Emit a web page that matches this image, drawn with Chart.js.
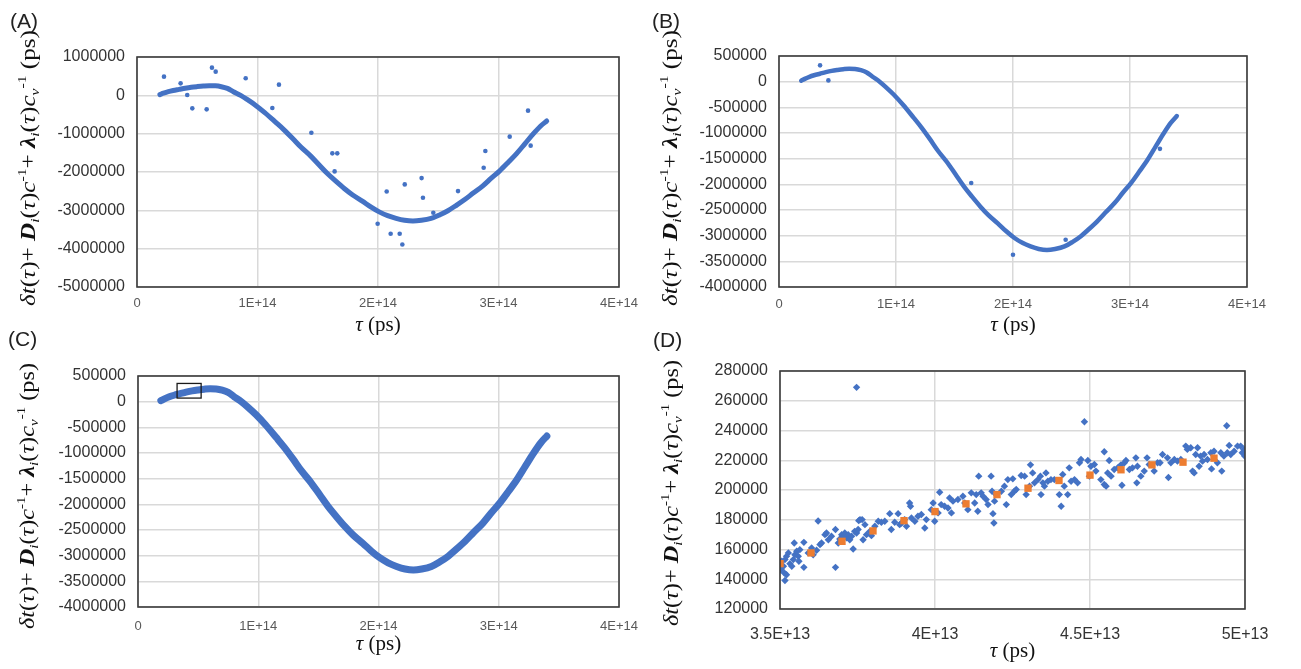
<!DOCTYPE html>
<html><head><meta charset="utf-8">
<script src="https://cdn.jsdelivr.net/npm/chart.js@4.4.0/dist/chart.umd.min.js"></script>
<style>
body{margin:0;background:#fff;width:1301px;height:669px;overflow:hidden;position:relative}
canvas{position:absolute}
</style></head><body>
<canvas id="cA" width="650" height="335" style="left:0;top:0"></canvas>
<canvas id="cB" width="651" height="335" style="left:650px;top:0"></canvas>
<canvas id="cC" width="650" height="341" style="left:0;top:328px"></canvas>
<canvas id="cD" width="651" height="341" style="left:650px;top:328px"></canvas>
<script>
// ---------- data ----------
const curveX = [0.19e14,0.22e14,0.26e14,0.30e14,0.35e14,0.40e14,0.45e14,0.50e14,0.55e14,0.60e14,0.65e14,0.70e14,0.75e14,0.80e14,0.86e14,0.92e14,0.98e14,1.06e14,1.15e14,1.22e14,1.29e14,1.36e14,1.44e14,1.51e14,1.58e14,1.65e14,1.72e14,1.79e14,1.87e14,1.94e14,2.01e14,2.08e14,2.15e14,2.22e14,2.29e14,2.36e14,2.44e14,2.51e14,2.58e14,2.65e14,2.72e14,2.79e14,2.87e14,2.94e14,3.01e14,3.08e14,3.15e14,3.22e14,3.29e14,3.35e14,3.40e14];
const curveY = [20000,55000,95000,125000,155000,185000,210000,228000,243000,252000,248000,225000,180000,95000,0,-120000,-250000,-450000,-700000,-900000,-1120000,-1350000,-1580000,-1810000,-2040000,-2240000,-2430000,-2600000,-2760000,-2910000,-3040000,-3140000,-3210000,-3260000,-3280000,-3260000,-3210000,-3120000,-3010000,-2870000,-2720000,-2550000,-2360000,-2160000,-1970000,-1750000,-1520000,-1260000,-1000000,-800000,-670000];

const outAX = [0.224e14,0.362e14,0.417e14,0.459e14,0.578e14,0.622e14,0.653e14,0.902e14,1.123e14,1.178e14,1.447e14,1.621e14,1.662e14,1.640e14,1.997e14,2.072e14,2.105e14,2.180e14,2.202e14,2.222e14,2.362e14,2.373e14,2.459e14,2.664e14,2.877e14,2.891e14,3.093e14,3.245e14,3.267e14];
const outAY = [488000,313000,8000,-340000,-365000,722000,618000,444000,-331000,279000,-975000,-1514000,-1514000,-1984000,-3351000,-2507000,-3612000,-3612000,-3890000,-2324000,-2159000,-2671000,-3063000,-2498000,-1888000,-1454000,-1078000,-400000,-1313000];

const outBX = [0.351e14,0.422e14,1.643e14,2.000e14,2.450e14,3.256e14];
const outBY = [318000,25000,-1973000,-3373000,-3080000,-1309000];

const zoomBoxX = [3.25e13, 5.25e13];
const zoomBoxY = [70000, 355000];

const meanDX = [3.5e13,3.6e13,3.7e13,3.8e13,3.9e13,4.0e13,4.1e13,4.2e13,4.3e13,4.4e13,4.5e13,4.6e13,4.7e13,4.8e13,4.9e13];
const meanDY = [150500,157700,165500,172500,179400,185500,190700,196900,201200,206400,210000,213600,216900,218700,221400];

const dotDX = [3.503e13,3.511e13,3.516e13,3.521e13,3.527e13,3.505e13,3.514e13,3.521e13,3.516e13,3.532e13,3.538e13,3.543e13,3.548e13,3.559e13,3.561e13,3.546e13,3.577e13,3.577e13,3.564e13,3.554e13,
3.591e13,3.602e13,3.607e13,3.618e13,3.623e13,3.629e13,3.634e13,3.645e13,3.650e13,3.656e13,3.666e13,3.679e13,3.679e13,3.688e13,3.693e13,3.699e13,3.704e13,3.709e13,3.715e13,3.720e13,
3.725e13,3.731e13,3.736e13,3.741e13,3.747e13,3.752e13,3.754e13,3.758e13,3.765e13,3.768e13,3.774e13,3.779e13,3.790e13,3.795e13,3.806e13,3.817e13,3.827e13,3.838e13,3.854e13,3.859e13,
3.870e13,3.881e13,3.886e13,3.892e13,3.902e13,3.908e13,3.918e13,3.921e13,3.924e13,3.935e13,3.945e13,3.956e13,3.967e13,3.972e13,3.988e13,3.994e13,3.999e13,4.010e13,4.015e13,4.020e13,
4.031e13,4.042e13,4.047e13,4.053e13,4.058e13,4.074e13,4.090e13,4.096e13,4.106e13,4.117e13,4.128e13,4.133e13,4.138e13,4.141e13,4.149e13,4.155e13,4.165e13,4.171e13,4.181e13,4.184e13,
4.187e13,4.190e13,4.192e13,4.197e13,4.214e13,4.224e13,4.230e13,4.235e13,4.246e13,4.251e13,4.256e13,4.262e13,4.278e13,4.289e13,4.294e13,4.305e13,4.308e13,4.315e13,4.321e13,4.332e13,
4.340e13,4.342e13,4.348e13,4.353e13,4.358e13,4.364e13,4.374e13,4.385e13,4.401e13,4.407e13,4.412e13,4.417e13,4.428e13,4.433e13,4.439e13,4.450e13,4.460e13,4.466e13,4.471e13,4.482e13,
4.493e13,4.498e13,4.503e13,4.514e13,4.519e13,4.535e13,4.546e13,4.552e13,4.546e13,4.557e13,4.562e13,4.568e13,4.578e13,4.589e13,4.600e13,4.603e13,4.611e13,4.616e13,4.627e13,4.637e13,
4.648e13,4.651e13,4.653e13,4.664e13,4.675e13,4.684e13,4.691e13,4.707e13,4.718e13,4.726e13,4.734e13,4.750e13,4.753e13,4.761e13,4.772e13,4.782e13,4.793e13,4.809e13,4.814e13,4.825e13,
4.831e13,4.836e13,4.841e13,4.847e13,4.852e13,4.857e13,4.863e13,4.868e13,4.879e13,4.890e13,4.892e13,4.900e13,4.911e13,4.922e13,4.925e13,4.932e13,4.941e13,4.943e13,4.949e13,4.954e13,
4.965e13,4.976e13,4.986e13,4.991e13,4.997e13,4.999e13,3.747e13];
const dotDY = [146400,148700,153200,155400,157700,152100,144200,143000,139200,150500,148700,153200,156500,155400,152100,164400,164800,148000,159900,158800,
157700,161000,156500,159500,179200,163300,164400,170000,171100,166600,168900,173400,148000,164400,167100,170000,168400,171100,167800,170000,
166600,168900,160300,172200,171100,173400,179400,180100,180100,166600,176700,170000,172200,169300,175600,179000,178300,179000,184100,173400,
178300,184100,176700,177800,180100,175600,191300,189100,181200,179000,182400,183500,174500,180100,186800,191300,179000,184600,198500,190200,
189100,187900,194700,184600,192500,193600,195800,191300,186800,198100,191300,196900,185700,209300,198100,195800,193600,190200,209300,199200,
184100,177800,192500,196900,199200,202600,190200,207000,196900,207500,199200,200300,209700,209300,196900,202600,216900,211500,204800,207000,
209300,196900,204800,202600,211500,205900,207000,207000,196900,189100,210400,202600,196900,214900,205900,207000,204800,218300,220500,245900,
219800,209300,216000,217100,212700,207000,203700,202600,225700,211500,219800,209300,213800,214900,216900,203200,218300,219800,213800,214900,
221600,204800,216000,209300,212700,221600,217100,212700,218300,218300,223900,221600,208400,218300,220500,219400,220500,229500,227300,228400,
212700,211500,223900,228400,216000,222800,219400,223900,220500,225000,214200,226100,218300,225000,212700,222800,243200,225000,230000,223900,
226100,229500,229500,225000,227300,222800,269000];

// ---------- ticks ----------
const xTicksABC = [0, 1e14, 2e14, 3e14, 4e14];
const xTickLabelsABC = ['0','1E+14','2E+14','3E+14','4E+14'];
const yTicksA = [-5e6,-4e6,-3e6,-2e6,-1e6,0,1e6];
const yTickLabelsA = ['-5000000','-4000000','-3000000','-2000000','-1000000','0','1000000'];
const yTicksBC = [-4e6,-3.5e6,-3e6,-2.5e6,-2e6,-1.5e6,-1e6,-5e5,0,5e5];
const yTickLabelsBC = ['-4000000','-3500000','-3000000','-2500000','-2000000','-1500000','-1000000','-500000','0','500000'];
const xTicksD = [3.5e13, 4e13, 4.5e13, 5e13];
const xTickLabelsD = ['3.5E+13','4E+13','4.5E+13','5E+13'];
const yTicksD = [120000,140000,160000,180000,200000,220000,240000,260000,280000];
const yTickLabelsD = ['120000','140000','160000','180000','200000','220000','240000','260000','280000'];

const panelLabels = ['(A)','(B)','(C)','(D)'];

// ---------- styling helpers ----------
const BLUE = '#4472C4', ORANGE = '#ED7D31';
const SANS = '"Liberation Sans", Arial, sans-serif';
const SERIF = '"Liberation Serif", "Times New Roman", serif';
const pts = (xs, ys) => xs.map((x, i) => ({x, y: ys[i]}));

// y-axis title segments: δt(τ)+ D_i(τ)c^-1+ λ_i(τ)c_v^-1 (ps)
const yTitleSegs = [
  {t:'δt',s:'i'},{t:'(',s:'n'},{t:'τ',s:'i'},{t:')+ ',s:'n'},
  {t:'D',s:'bi'},{t:'i',s:'i',v:'sub'},{t:'(',s:'n'},{t:'τ',s:'i'},{t:')',s:'n'},{t:'c',s:'i'},{t:'-1',s:'n',v:'sup'},
  {t:'+ ',s:'n'},{t:'λ',s:'bi'},{t:'i',s:'i',v:'sub'},{t:'(',s:'n'},{t:'τ',s:'i'},{t:')',s:'n'},{t:'c',s:'i'},{t:'v',s:'i',v:'sub'},{t:'-1',s:'n',v:'sup'},
  {t:' (ps)',s:'n'}
];
const xTitleSegs = [{t:'τ',s:'i'},{t:' (ps)',s:'n'}];

function segFont(seg, size){
  const sz = seg.v ? size*0.62 : size;
  const st = seg.s === 'i' ? 'italic ' : seg.s === 'bi' ? 'italic bold ' : '';
  return st + sz.toFixed(1) + 'px ' + SERIF;
}
function drawRich(ctx, segs, size, cx, cy, rot, target){
  ctx.save();
  ctx.translate(cx, cy);
  if (rot) ctx.rotate(-Math.PI/2);
  let total = 0;
  const ws = segs.map(s => { ctx.font = segFont(s, size); const w = ctx.measureText(s.t).width; total += w; return w; });
  const k = target ? target/total : 1;
  ctx.scale(k, 1);
  let x = -total/2;
  ctx.fillStyle = '#111';
  ctx.textBaseline = 'alphabetic';
  segs.forEach((s, i) => {
    ctx.font = segFont(s, size);
    const dy = s.v === 'sub' ? size*0.22 : s.v === 'sup' ? -size*0.45 : 0;
    ctx.fillText(s.t, x, dy);
    x += ws[i];
  });
  ctx.restore();
}

const decor = {
  id: 'decor',
  afterDraw(chart, args, o){
    const ctx = chart.ctx, a = chart.chartArea;
    ctx.save();
    if (o.box) {
      const xs = chart.scales.x, ys = chart.scales.y;
      const x1 = xs.getPixelForValue(o.box[0][0]), x2 = xs.getPixelForValue(o.box[0][1]);
      const y1 = ys.getPixelForValue(o.box[1][1]), y2 = ys.getPixelForValue(o.box[1][0]);
      ctx.strokeStyle = '#1a1a1a'; ctx.lineWidth = 1.3;
      ctx.strokeRect(x1, y1, x2-x1, y2-y1);
    }
    ctx.strokeStyle = '#3a3a3a'; ctx.lineWidth = 1.6;
    ctx.strokeRect(a.left, a.top, a.right-a.left, a.bottom-a.top);
    ctx.fillStyle = '#222';
    ctx.font = '21px ' + SANS;
    ctx.textBaseline = 'alphabetic';
    ctx.fillText(o.label, o.lx, o.ly);
    drawRich(ctx, yTitleSegs, 20, o.yx, o.yy, true, o.ylen);
    drawRich(ctx, xTitleSegs, 21, (a.left+a.right)/2, o.xb, false, null);
    ctx.restore();
  }
};

function makePanel(id, p){
  const gridC = '#d9d9d9';
  new Chart(document.getElementById(id), {
    type: 'scatter',
    data: {datasets: p.datasets},
    options: {
      responsive: false, animation: false, devicePixelRatio: 1,
      layout: {padding: {left: 0, top: p.padTop, right: p.padRight, bottom: 0}},
      plugins: {legend: {display: false}, tooltip: {enabled: false}, decor: p.decor},
      scales: {
        x: {
          type: 'linear', min: p.xTicks[0], max: p.xTicks[p.xTicks.length-1],
          afterBuildTicks: s => { s.ticks = p.xTicks.map(v => ({value: v})); },
          afterFit: s => { s.height = p.xH; },
          ticks: {callback: (v, i) => p.xLabels[i], font: {family: SANS, size: p.xFont}, color: p.xColor, padding: p.xPad, maxRotation: 0, autoSkip: false},
          grid: {color: gridC, lineWidth: 1.5, drawTicks: false},
          border: {display: false}
        },
        y: {
          type: 'linear', min: p.yTicks[0], max: p.yTicks[p.yTicks.length-1],
          afterBuildTicks: s => { s.ticks = p.yTicks.map(v => ({value: v})); },
          afterFit: s => { s.width = p.yW; },
          ticks: {callback: (v, i) => p.yLabels[i], font: {family: SANS, size: 16}, color: '#333', padding: 12, autoSkip: false},
          grid: {color: gridC, lineWidth: 1.5, drawTicks: false},
          border: {display: false}
        }
      }
    },
    plugins: [decor]
  });
}

function curveSet(w){
  return {data: pts(curveX, curveY), showLine: true, borderColor: BLUE, borderWidth: w, pointRadius: 0, cubicInterpolationMode: 'monotone', borderCapStyle: 'round', borderJoinStyle: 'round'};
}
function dotsSet(xs, ys, r){
  return {data: pts(xs, ys), showLine: false, pointRadius: r, pointBackgroundColor: BLUE, pointBorderWidth: 0, pointStyle: 'circle'};
}

makePanel('cA', {
  datasets: [dotsSet(outAX, outAY, 2.3), curveSet(5)],
  xTicks: xTicksABC, xLabels: xTickLabelsABC, yTicks: yTicksA, yLabels: yTickLabelsA,
  xFont: 13, xColor: '#595959', xPad: 9, yW: 137, xH: 48, padTop: 57, padRight: 31,
  decor: {label: panelLabels[0], lx: 10, ly: 28, yx: 35, yy: 168, ylen: 276, xb: 331}
});
makePanel('cB', {
  datasets: [dotsSet(outBX, outBY, 2.3), curveSet(4.5)],
  xTicks: xTicksABC, xLabels: xTickLabelsABC, yTicks: yTicksBC, yLabels: yTickLabelsBC,
  xFont: 13, xColor: '#595959', xPad: 10, yW: 129, xH: 48, padTop: 56, padRight: 54,
  decor: {label: panelLabels[1], lx: 2, ly: 28, yx: 27, yy: 168, ylen: 276, xb: 331}
});
makePanel('cC', {
  datasets: [curveSet(7)],
  xTicks: xTicksABC, xLabels: xTickLabelsABC, yTicks: yTicksBC, yLabels: yTickLabelsBC,
  xFont: 13, xColor: '#595959', xPad: 12, yW: 138, xH: 62, padTop: 48, padRight: 30,
  decor: {label: panelLabels[2], lx: 8, ly: 18, yx: 34, yy: 168, ylen: 266, xb: 322, box: [zoomBoxX, zoomBoxY]}
});
makePanel('cD', {
  datasets: [
    {data: pts(meanDX, meanDY), showLine: false, pointRadius: 5.2, pointStyle: 'rect', pointBackgroundColor: ORANGE, pointBorderWidth: 0},
    {data: pts(dotDX, dotDY), showLine: false, pointRadius: 3.7, pointStyle: 'rectRot', pointBackgroundColor: BLUE, pointBorderWidth: 0}
  ],
  xTicks: xTicksD, xLabels: xTickLabelsD, yTicks: yTicksD, yLabels: yTickLabelsD,
  xFont: 16, xColor: '#333', xPad: 16, yW: 130, xH: 60, padTop: 43, padRight: 56,
  decor: {label: panelLabels[3], lx: 3, ly: 19, yx: 28, yy: 165, ylen: 266, xb: 329}
});
</script>
</body></html>
